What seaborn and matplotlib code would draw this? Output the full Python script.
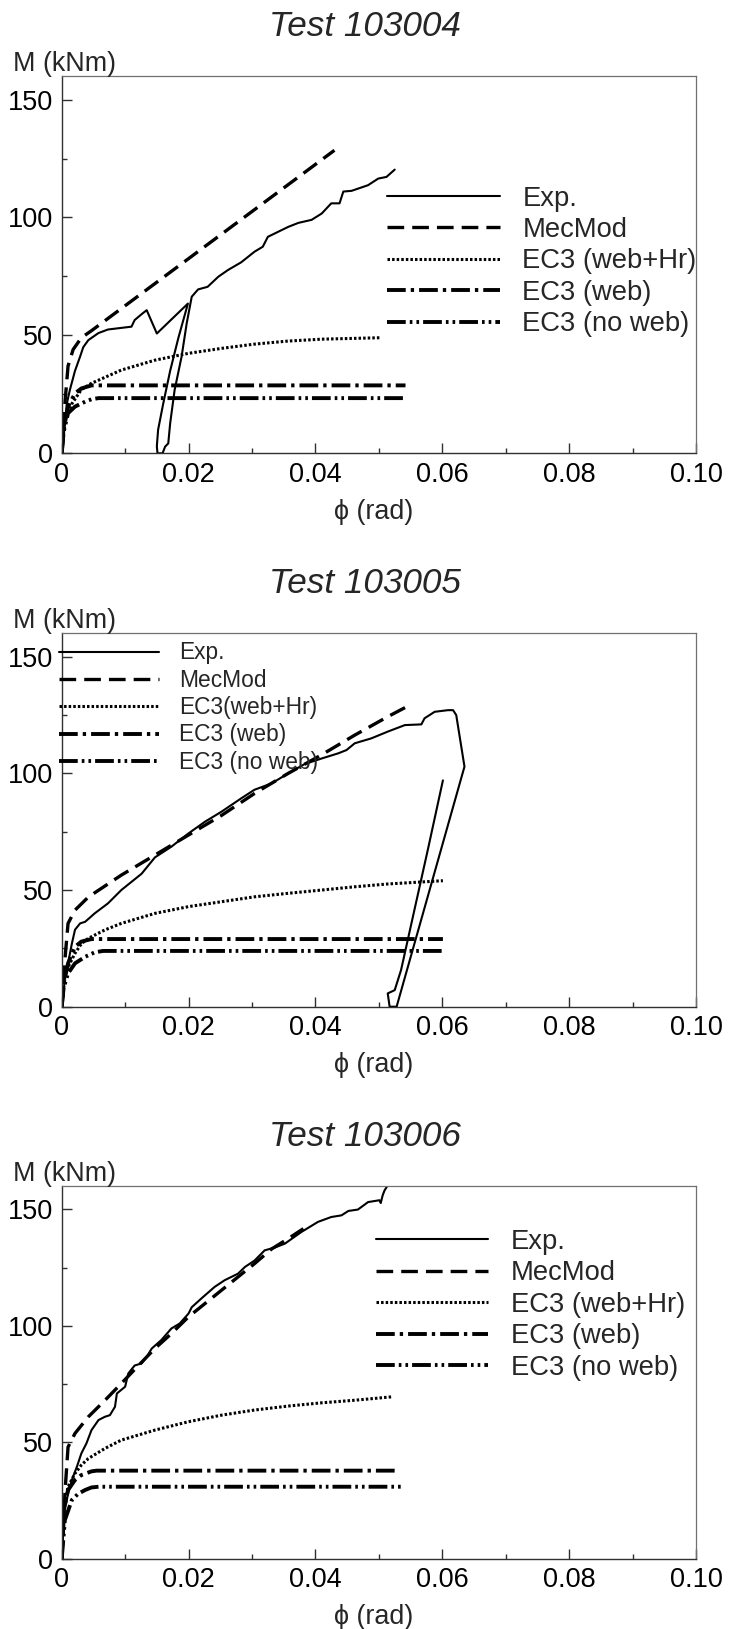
import matplotlib
matplotlib.use("Agg")
import matplotlib.pyplot as plt
from matplotlib.ticker import MultipleLocator, FixedLocator, FixedFormatter
import seaborn as sns

# ---------------- data: moment-rotation curves (phi in rad, M in kNm) ----------------
series_labels = ["Exp.", "MecMod", "EC3 (web+Hr)", "EC3 (web)", "EC3 (no web)"]
series_labels_103005 = ["Exp.", "MecMod", "EC3(web+Hr)", "EC3 (web)", "EC3 (no web)"]
test_titles = ["Test 103004", "Test 103005", "Test 103006"]
x_tick_values = [0, 0.02, 0.04, 0.06, 0.08, 0.10]
x_tick_labels = ["0", "0.02", "0.04", "0.06", "0.08", "0.10"]
y_tick_values = [0, 50, 100, 150]
y_tick_labels = ["0", "50", "100", "150"]

# Test 103004
phi_exp_103004 = [0, 0.0003, 0.0008, 0.0013, 0.0021, 0.0029, 0.0034, 0.0042, 0.0058, 0.0073,
                  0.0110, 0.0115, 0.0126, 0.0134, 0.0150, 0.0199, 0.0184, 0.0171, 0.0160, 0.0152,
                  0.0150, 0.0151, 0.0159, 0.0163, 0.0168, 0.0171, 0.0178, 0.0189, 0.0197, 0.0205,
                  0.0215, 0.0230, 0.0247, 0.0262, 0.0283, 0.0304, 0.0317, 0.0325, 0.0357, 0.0373,
                  0.0394, 0.0410, 0.0425, 0.0438, 0.0444, 0.0457, 0.0483, 0.0499, 0.0512, 0.0525]
m_exp_103004 = [0, 7, 21, 27, 35, 41, 45, 48, 51, 52.5,
                53.7, 56.5, 59, 60.7, 50.8, 63.5, 49, 35, 21, 10,
                3, 0, 0, 2.8, 4.2, 12.7, 26.8, 41, 55, 66.4,
                69.5, 70.6, 74.9, 77.7, 81, 85.5, 87.6, 91.8, 96, 97.7,
                99, 101.7, 106, 106, 111, 111.3, 113.7, 116.5, 117.2, 120.3]
phi_mec_103004 = [0, 0.0005, 0.0010, 0.0018, 0.0031, 0.0047, 0.0430]
m_mec_103004 = [0, 21, 37, 44, 49, 52, 128.5]
phi_hr_103004 = [0, 0.0005, 0.0016, 0.0031, 0.0047, 0.0058, 0.0094, 0.0147, 0.0200, 0.0252,
                 0.0304, 0.0357, 0.0410, 0.0501]
m_hr_103004 = [0, 14, 21, 27, 29.7, 31, 35.3, 39.5, 42.4, 44.5,
               46.3, 47.6, 48.4, 49]
phi_web_103004 = [0, 0.0003, 0.0010, 0.0021, 0.0031, 0.0047, 0.0542]
m_web_103004 = [0, 10, 19.8, 25.4, 27.5, 28.8, 28.8]
phi_noweb_103004 = [0, 0.0003, 0.0010, 0.0021, 0.0037, 0.0047, 0.0058, 0.0542]
m_noweb_103004 = [0, 9, 17, 19.8, 21.9, 22.9, 23.4, 23.4]

# Test 103005
phi_exp_103005 = [0, 0.0003, 0.0005, 0.0010, 0.0016, 0.0021, 0.0029, 0.0037, 0.0052, 0.0073,
                  0.0094, 0.0126, 0.0147, 0.0173, 0.0200, 0.0226, 0.0252, 0.0283, 0.0304, 0.0331,
                  0.0357, 0.0383, 0.0410, 0.0436, 0.0449, 0.0462, 0.0488, 0.0514, 0.0541, 0.0567,
                  0.0572, 0.0588, 0.0609, 0.0617, 0.0622, 0.0635, 0.0528, 0.0517, 0.0514, 0.0525,
                  0.0535, 0.0556, 0.0577, 0.0601]
m_exp_103005 = [0, 5.7, 12.9, 18.6, 27, 33, 35.7, 36.4, 40, 44.3,
                50, 57, 64, 68.6, 74.3, 79.3, 83.6, 89.3, 93, 95.7,
                100, 104, 106.4, 108.6, 110, 112.9, 115, 117.9, 120.7, 121,
                123.6, 126.4, 127.1, 127.1, 125, 102.9, 0, 0, 5.7, 7.1,
                15.7, 41.4, 67, 97]
phi_mec_103005 = [0, 0.0005, 0.0010, 0.0021, 0.0042, 0.0094, 0.0147, 0.0200, 0.0252, 0.0304,
                  0.0357, 0.0410, 0.0462, 0.0514, 0.0549]
m_mec_103005 = [0, 20, 35.7, 41.4, 47, 56.4, 65, 73.6, 82, 91.4,
                100, 108, 116.4, 124.3, 129.3]
phi_hr_103005 = [0, 0.0005, 0.0010, 0.0021, 0.0031, 0.0042, 0.0068, 0.0094, 0.0147, 0.0200,
                 0.0252, 0.0304, 0.0357, 0.0410, 0.0462, 0.0514, 0.0601]
m_hr_103005 = [0, 12.9, 17, 22.9, 27, 29.3, 32.9, 35.7, 40, 42.9,
               45, 47.1, 48.6, 50, 51.4, 52.6, 54]
phi_web_103005 = [0, 0.0003, 0.0010, 0.0021, 0.0031, 0.0047, 0.0601]
m_web_103005 = [0, 10, 18.6, 25.7, 27.9, 29, 29]
phi_noweb_103005 = [0, 0.0003, 0.0010, 0.0021, 0.0037, 0.0052, 0.0065, 0.0601]
m_noweb_103005 = [0, 8, 14.3, 18.6, 21.4, 23.3, 23.9, 23.9]

# Test 103006
phi_exp_103006 = [0, 0.0003, 0.0005, 0.0010, 0.0016, 0.0024, 0.0031, 0.0039, 0.0047, 0.0058,
                  0.0068, 0.0076, 0.0084, 0.0087, 0.0100, 0.0105, 0.0115, 0.0126, 0.0134, 0.0142,
                  0.0157, 0.0173, 0.0186, 0.0200, 0.0205, 0.0220, 0.0241, 0.0257, 0.0278, 0.0289,
                  0.0304, 0.0320, 0.0336, 0.0352, 0.0378, 0.0404, 0.0425, 0.0441, 0.0452, 0.0467,
                  0.0483, 0.0501, 0.0503, 0.0506, 0.0509, 0.0514]
m_exp_103006 = [0, 14, 21, 28, 33.9, 39.6, 45.3, 49.6, 55.3, 59.6,
                61, 61.7, 65.3, 71, 73.9, 79.6, 83, 83.9, 86.7, 90.3,
                93.9, 98.9, 101, 105.3, 108, 111.7, 116.7, 119.6, 122.4, 125.3,
                128, 132.4, 133.6, 135.3, 140.3, 144.6, 146.7, 147.4, 149.3, 149.9,
                153.1, 153.9, 152.7, 156, 158.1, 160.3]
phi_mec_103006 = [0, 0.0003, 0.0005, 0.0010, 0.0021, 0.0042, 0.0068, 0.0094, 0.0121, 0.0147,
                  0.0173, 0.0200, 0.0226, 0.0252, 0.0278, 0.0304, 0.0331, 0.0357, 0.0381]
m_mec_103006 = [0, 13.9, 28, 48, 53.9, 61, 68, 75.3, 83, 90.3,
                96.7, 103.9, 109.6, 115.3, 121, 126.7, 133, 137.4, 141.7]
phi_hr_103006 = [0, 0.0003, 0.0010, 0.0021, 0.0031, 0.0042, 0.0068, 0.0094, 0.0147, 0.0200,
                 0.0252, 0.0304, 0.0357, 0.0410, 0.0462, 0.0522]
m_hr_103006 = [0, 21, 31, 36.7, 40.3, 43.1, 47.4, 51, 55.3, 58.9,
               61.7, 63.9, 65.6, 67, 68.1, 69.6]
phi_web_103006 = [0, 0.0003, 0.0010, 0.0021, 0.0031, 0.0047, 0.0055, 0.0530]
m_web_103006 = [0, 21, 29.6, 33.9, 36, 37.6, 37.9, 37.9]
phi_noweb_103006 = [0, 0.0005, 0.0016, 0.0026, 0.0037, 0.0047, 0.0058, 0.0538]
m_noweb_103006 = [0, 16.7, 25.3, 28, 29.6, 30.7, 31, 31]

tests = [
    [(phi_exp_103004, m_exp_103004), (phi_mec_103004, m_mec_103004), (phi_hr_103004, m_hr_103004),
     (phi_web_103004, m_web_103004), (phi_noweb_103004, m_noweb_103004)],
    [(phi_exp_103005, m_exp_103005), (phi_mec_103005, m_mec_103005), (phi_hr_103005, m_hr_103005),
     (phi_web_103005, m_web_103005), (phi_noweb_103005, m_noweb_103005)],
    [(phi_exp_103006, m_exp_103006), (phi_mec_103006, m_mec_103006), (phi_hr_103006, m_hr_103006),
     (phi_web_103006, m_web_103006), (phi_noweb_103006, m_noweb_103006)],
]

# ---------------- styling ----------------
sns.set_theme(style="white")
plt.rcParams["font.family"] = ["Liberation Sans", "DejaVu Sans"]
plt.rcParams["lines.scale_dashes"] = False
plt.rcParams["axes.unicode_minus"] = False

line_styles = [
    dict(linewidth=1.5, linestyle="-"),
    dict(linewidth=2.4, linestyle=(0, (12.0, 5.8))),
    dict(linewidth=2.2, linestyle=(0, (1.8, 1.5)), dash_capstyle="butt"),
    dict(linewidth=2.8, linestyle=(0, (13.5, 3.6, 2.4, 3.6))),
    dict(linewidth=2.8, linestyle=(0, (13.5, 2.9, 1.9, 2.9, 1.9, 2.9))),
]

W, H = 739, 1629
fig = plt.figure(figsize=(W / 100, H / 100), dpi=100)

# axes boxes in pixels: (left, top, right, bottom)
axes_px = [(61.7, 76.0, 696.0, 453.3),
           (61.7, 633.4, 696.0, 1006.7),
           (61.7, 1186.0, 696.0, 1559.0)]
# legend placement: (left px, top px, font size, handle length, text pad, spacing)
legend_px = [(387.3, 185.5, 19.7, 4.12, 0.82, 0.2),
             (59.3, 641.5, 16.4, 4.39, 0.88, 0.19),
             (375.6, 1229.0, 19.7, 4.12, 0.82, 0.2)]
label_sets = [series_labels, series_labels_103005, series_labels]

TICK_FS = 19.5
LABEL_FS = 19.4
spine_dark = "#303030"
spine_light = "#707070"

for i, (l, t, r, b) in enumerate(axes_px):
    ax = fig.add_axes([l / W, 1 - b / H, (r - l) / W, (b - t) / H])
    ax.set_facecolor("white")
    for (phi, m), st, lab in zip(tests[i], line_styles, label_sets[i]):
        sns.lineplot(x=phi, y=m, ax=ax, sort=False, estimator=None, color="black",
                     label=lab, legend=False, **st)
    handles = ax.get_lines()

    ax.set_xlim(0, 0.10)
    ax.set_ylim(0, 160)
    ax.xaxis.set_major_locator(FixedLocator(x_tick_values))
    ax.xaxis.set_major_formatter(FixedFormatter(x_tick_labels))
    ax.xaxis.set_minor_locator(MultipleLocator(0.01))
    ax.yaxis.set_major_locator(FixedLocator(y_tick_values))
    ax.yaxis.set_major_formatter(FixedFormatter(y_tick_labels))
    ax.yaxis.set_minor_locator(MultipleLocator(25))
    ax.tick_params(which="both", direction="in", top=False, right=False,
                   bottom=True, left=True, color=spine_dark, width=1.0)
    ax.tick_params(which="major", length=7.2, pad=6, labelsize=TICK_FS, labelcolor="black")
    ax.tick_params(which="minor", length=3.6)

    for side in ["left", "bottom"]:
        ax.spines[side].set_color(spine_dark)
        ax.spines[side].set_linewidth(1.0)
    for side in ["top", "right"]:
        ax.spines[side].set_color(spine_light)
        ax.spines[side].set_linewidth(0.9)

    ax.set_title(test_titles[i], fontsize=25.3, fontstyle="italic", x=0.478, pad=28.8)
    ax.annotate("M (kNm)", xy=(0, 1), xycoords="axes fraction", xytext=(-34.8, 3.8),
                textcoords="offset points", ha="left", va="baseline", fontsize=LABEL_FS)
    ax.set_xlabel("ϕ (rad)", fontsize=LABEL_FS, va="center")
    ax.xaxis.set_label_coords(0.4924, -(58.4 / (b - t)))
    ax.set_ylabel("")

    lx, ly, fs, hl, hp, ls = legend_px[i]
    leg = ax.legend(handles=handles, labels=label_sets[i], loc="upper left",
                    bbox_to_anchor=(lx / W, 1 - ly / H), bbox_transform=fig.transFigure,
                    frameon=False, borderpad=0, borderaxespad=0, handlelength=hl,
                    handletextpad=hp, labelspacing=ls, prop={"size": fs})
    leg.set_zorder(5)

fig.savefig("out.png", dpi=100, facecolor="white")
